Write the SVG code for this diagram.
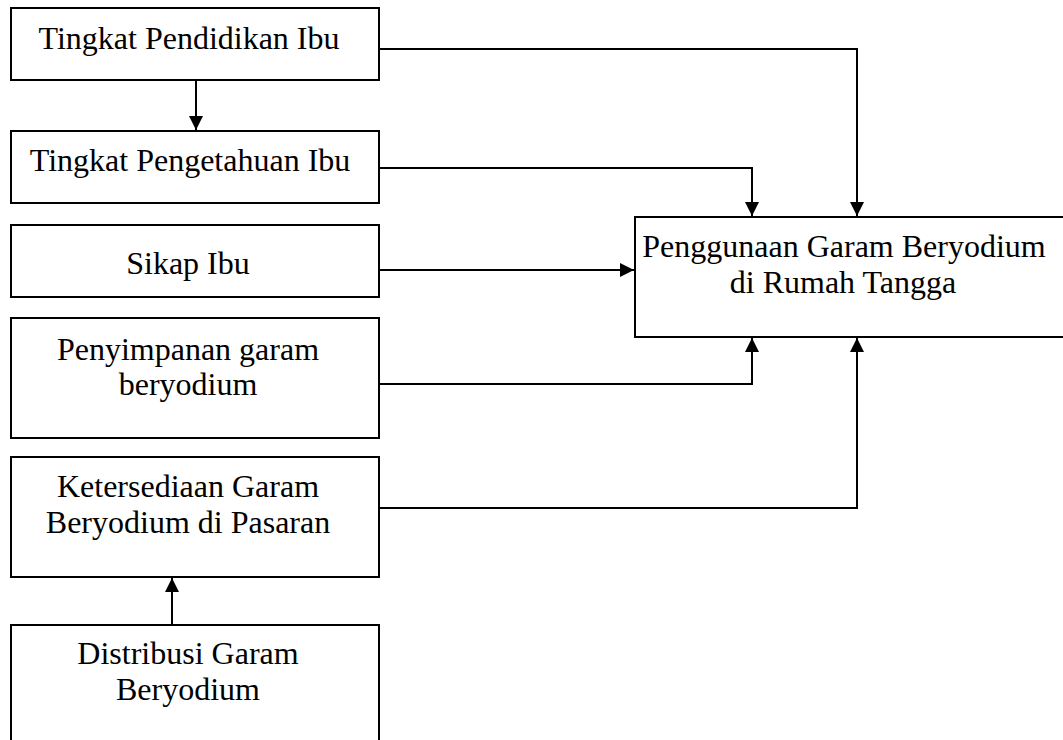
<svg xmlns="http://www.w3.org/2000/svg" width="1063" height="740" viewBox="0 0 1063 740">
<style>
.box{fill:#fff;stroke:#000;stroke-width:2}
.t{font-family:"Liberation Serif","Times New Roman",serif;font-size:32px;fill:#000;text-anchor:middle}
.c{fill:none;stroke:#000;stroke-width:2}
</style>
<defs>
<marker id="ah" viewBox="0 0 14 14" refX="14" refY="7" markerWidth="14" markerHeight="14" markerUnits="userSpaceOnUse" orient="auto">
<path d="M0,0 L14,7 L0,14 Z" fill="#000"/>
</marker>
</defs>
<rect width="1063" height="740" fill="#fff"/>
<g id="n1"><rect class="box" x="11" y="8" width="368" height="72"/><text class="t" x="189" y="49">Tingkat Pendidikan Ibu</text></g>
<g id="n2"><rect class="box" x="11" y="131" width="368" height="72"/><text class="t" x="190" y="171">Tingkat Pengetahuan Ibu</text></g>
<g id="n3"><rect class="box" x="11" y="225" width="368" height="72"/><text class="t" x="188" y="274">Sikap Ibu</text></g>
<g id="n4"><rect class="box" x="11" y="318" width="368" height="120"/><text class="t" x="188" y="360">Penyimpanan garam</text><text class="t" x="188" y="395">beryodium</text></g>
<g id="n5"><rect class="box" x="11" y="457" width="368" height="120"/><text class="t" x="188" y="497">Ketersediaan Garam</text><text class="t" x="188" y="533">Beryodium di Pasaran</text></g>
<g id="n6"><rect class="box" x="11" y="625" width="368" height="130"/><text class="t" x="188" y="664">Distribusi Garam</text><text class="t" x="188" y="700">Beryodium</text></g>
<g id="target"><rect class="box" x="635" y="217" width="440" height="120"/><text class="t" x="844" y="257">Penggunaan Garam Beryodium</text><text class="t" x="843" y="293">di Rumah Tangga</text></g>
<g id="connectors">
<path class="c" d="M196,81 V130" marker-end="url(#ah)"/>
<path class="c" d="M380,49 H857 V216" marker-end="url(#ah)"/>
<path class="c" d="M380,168 H752 V216" marker-end="url(#ah)"/>
<path class="c" d="M380,270 H634" marker-end="url(#ah)"/>
<path class="c" d="M380,384 H752 V338" marker-end="url(#ah)"/>
<path class="c" d="M380,508 H857 V338" marker-end="url(#ah)"/>
<path class="c" d="M172,624 V578" marker-end="url(#ah)"/>
</g>
</svg>
